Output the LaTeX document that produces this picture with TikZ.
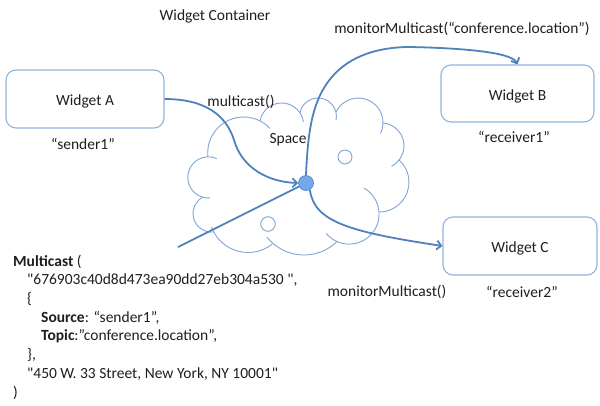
\documentclass[tikz,border=0pt]{standalone}
\usepackage{fontspec}
\setmainfont{Carlito}
\usetikzlibrary{arrows.meta}

\definecolor{ink}{HTML}{1E1E1E}
\definecolor{conn}{HTML}{4F81BD}
\definecolor{boxline}{HTML}{8DB3E2}
\definecolor{cloudline}{HTML}{7EA5D6}
\definecolor{dotfill}{HTML}{72A9EC}

% one puff of the cloud: centre x, centre y, radius, start angle, end angle
\newcommand{\puff}[5]{\draw[puffline] ([shift={(#4:#3)}]#1,#2) arc[start angle=#4,end angle=#5,radius=#3];}

\begin{document}
\begin{tikzpicture}[x=1pt,y=1pt,yscale=-1,
  every node/.style={font=\fontsize{15.5}{17}\selectfont, text=ink, inner sep=0pt},
  widget/.style={draw=boxline, line width=1.1pt, rounded corners=10pt,
                 text height=13pt, text depth=0pt},
  caption/.style={anchor=base},
  link/.style={draw=conn, line width=1.8pt},
  tip/.style={-{Straight Barb[length=4.5pt,width=9pt]}},
  puffline/.style={draw=cloudline, line width=0.9pt},
  hubdot/.style={circle, minimum size=15pt, fill=dotfill, draw=conn, line width=0.6pt}
]
\useasboundingbox (0,0) rectangle (600,405);

% the shared space
\puff{243.7}{153}{36}{174}{317}
\puff{281.6}{125}{22}{190}{352}
\puff{318}{116.4}{18.4}{191}{371}
\puff{358.3}{122.7}{24.7}{206}{386}
\puff{381.1}{145.8}{22.9}{275}{423}
\puff{379.2}{182.2}{29.8}{312}{450}
\puff{349.1}{214.1}{30}{300}{500}
\puff{304}{207.8}{47.2}{46}{141.5}
\puff{248.1}{213.5}{39}{52}{159.5}
\puff{211.6}{213.5}{18.6}{82.6}{242.5}
\puff{208.4}{177.4}{20.6}{85}{294}
\draw[puffline] (345,157) circle[radius=7];
\draw[puffline] (268,224) circle[radius=7.3];

% widgets
\node[widget, minimum width=158pt, minimum height=58pt] (A) at (85,99) {Widget A};
\node[widget, minimum width=153pt, minimum height=57pt] (B) at (517.5,93.5) {Widget B};
\node[widget, minimum width=154pt, minimum height=58pt] (C) at (520,246) {Widget C};

\node[caption] (sA) at (83,149) {“sender1”};
\node[caption] (sB) at (514,142) {“receiver1”};
\node[caption] (sC) at (522,297) {“receiver2”};

\node[caption] (title) at (215,20) {Widget Container};
\node[caption] (lmc) at (241,106) {multicast()};
\node[caption] (lspace) at (288,143) {Space};
\node[caption] (lmonB) at (462,33) {monitorMulticast(“conference.location”)};
\node[caption] (lmonC) at (387,296) {monitorMulticast()};

% the message hub
\node[hubdot] (hub) at (306,183) {};
\coordinate (feed) at (178,247);

% connectors
\draw[link, tip] (A.east) .. controls (205,99) and (226,115) .. (234,140)
      .. controls (242,168) and (268,182) .. (hub.west);
\draw[link, tip] (hub.north) .. controls (308,128) and (313,100) .. (331,78)
      .. controls (350,55) and (380,47) .. (410,47)
      .. controls (460,48) and (512,52) .. (B.north);
\draw[link, tip] (hub.300) .. controls (314,222) and (350,232) .. (C.west);
\draw[link] (feed) -- (hub);

% message payload (the node's base is the baseline of its last line)
\node[anchor=base west, align=left, font=\fontsize{15.5}{18.7}\selectfont] (msg) at (13,397)
{\textbf{Multicast} (\\
\hspace*{14pt}\textquotedbl676903c40d8d473ea90dd27eb304a530 \textquotedbl,\\
\hspace*{14pt}\{\\
\hspace*{28pt}\textbf{Source}: “sender1”,\\
\hspace*{28pt}\textbf{Topic}:”conference.location”,\\
\hspace*{14pt}\},\\
\hspace*{14pt}\textquotedbl450 W. 33 Street, New York, NY 10001\textquotedbl\\
)};
\end{tikzpicture}
\end{document}
